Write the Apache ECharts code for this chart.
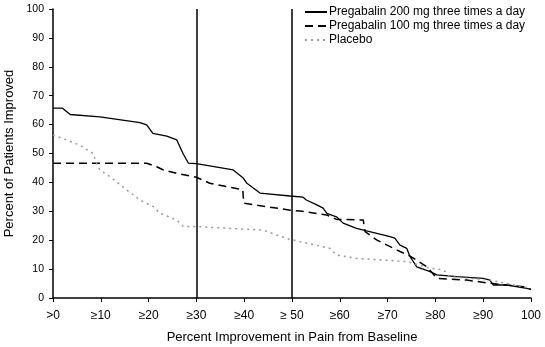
<!DOCTYPE html>
<html><head><meta charset="utf-8">
<script src="https://cdn.jsdelivr.net/npm/echarts@6/dist/echarts.min.js"></script>
<style>html,body{margin:0;padding:0;background:#fff}#c{width:545px;height:347px}</style>
</head><body><div id="c"></div>
<script>
const seriesNames = ["Pregabalin 200 mg three times a day", "Pregabalin 100 mg three times a day", "Placebo"];
const xTickLabels = [">0", "\u226510", "\u226520", "\u226530", "\u226540", "\u2265 50", "\u226560", "\u226570", "\u226580", "\u226590", "100"];
const thresholds = [30, 50];
const pregabalin200 = [[0,65.7],[2,65.7],[3.6,63.5],[9.8,62.7],[18.2,60.7],[19.6,59.9],[20.9,57],[23.8,56],[25.9,54.7],[27.2,50],[28.3,46.7],[30,46.5],[37.7,44.3],[39.8,41.5],[40.5,39.8],[43.3,36.3],[49.6,35.3],[52.3,34.9],[53,33.9],[55.2,32.2],[56.5,31.1],[57.3,29.3],[59.3,28.1],[60.7,25.9],[63.5,24.1],[65.6,23.2],[70.5,21.2],[71.5,20.7],[72.6,18.3],[74,17.2],[74.7,14.3],[76.1,10.8],[78.9,9.1],[80.3,8.0],[84.5,7.4],[90,6.8],[91.4,6.2],[92.1,4.5],[95,4.5],[99.1,3.3],[100,3.0]];
const pregabalin100 = [[0,46.6],[19.6,46.6],[21.7,45.4],[23.1,44.3],[25.9,43.1],[30,41.8],[32.8,39.7],[38.4,37.9],[39.7,37.5],[39.9,32.8],[49.6,30.4],[51.7,30.1],[57.3,28.7],[59.3,27.2],[64.9,27.0],[65.3,23.0],[67.7,20.1],[72.6,16.1],[74.7,14.5],[76.1,13.1],[78.2,10.8],[80.3,6.8],[86.5,6.2],[91.4,5.1],[98.4,3.9],[100,3.0]];
const placebo = [[0,56.4],[2.8,54.7],[5.6,52.9],[8.4,50],[9.1,46.6],[9.8,44.3],[11.9,42],[15.4,37.4],[18.2,33.9],[21,31.6],[22.4,29.3],[25.9,27],[27.3,24.7],[30,24.7],[44,23.5],[46.8,21.8],[48.9,20.6],[51.7,19.5],[57.9,17.2],[59.3,14.9],[63.5,13.7],[74,12.6],[78.9,10.3],[81.7,9.7],[83,7.4],[91.4,6.2],[100,3.3]];

const font = "Liberation Sans";
const chart = echarts.init(document.getElementById('c'));
chart.setOption({
  animation: false,
  backgroundColor: '#fff',
  textStyle: {fontFamily: font},
  grid: {left: 53, right: 14, top: 9, bottom: 49, containLabel: false, outerBoundsMode: 'none'},
  legend: {
    orient: 'vertical', left: 299, top: 1, itemWidth: 22, itemHeight: 8, itemGap: 2,
    itemStyle: {opacity: 0, borderWidth: 0},
    textStyle: {fontFamily: font, fontSize: 12, color: '#000', padding: [0,0,0,-3]},
    data: seriesNames
  },
  xAxis: {
    type: 'value', min: 0, max: 100, interval: 10,
    name: 'Percent Improvement in Pain from Baseline', nameLocation: 'middle', nameGap: 33,
    nameTextStyle: {fontFamily: font, fontSize: 13, color: '#000'},
    axisLine: {lineStyle: {color: '#000', width: 1.5}},
    axisTick: {show: true, length: 4, lineStyle: {color: '#000'}},
    splitLine: {show: false},
    axisLabel: {fontFamily: font, fontSize: 12, color: '#000', margin: 12,
      formatter: function(v){ return xTickLabels[Math.round(v/10)]; }}
  },
  yAxis: {
    type: 'value', min: 0, max: 100, interval: 10,
    name: 'Percent of Patients Improved', nameLocation: 'middle', nameGap: 37,
    nameTextStyle: {fontFamily: font, fontSize: 13, color: '#000'},
    axisLine: {show: true, lineStyle: {color: '#000', width: 1.5}},
    axisTick: {show: true, length: 4, lineStyle: {color: '#000'}},
    splitLine: {show: false},
    axisLabel: {fontFamily: font, fontSize: 10.5, color: '#000', margin: 9}
  },
  series: [
    {name: seriesNames[0], type: 'line', data: pregabalin200, showSymbol: false, symbol: 'none',
     lineStyle: {color: '#000', width: 1.3, type: 'solid'}, itemStyle: {color: '#000'},
     markLine: {silent: true, symbol: 'none', label: {show: false},
       lineStyle: {color: '#000', width: 1.5, type: 'solid'},
       data: thresholds.map(t => [{coord: [t, 0]}, {coord: [t, 100]}])}},
    {name: seriesNames[1], type: 'line', data: pregabalin100, showSymbol: false, symbol: 'none',
     lineStyle: {color: '#000', width: 1.5, type: [8, 5]}, itemStyle: {color: '#000'}},
    {name: seriesNames[2], type: 'line', data: placebo, showSymbol: false, symbol: 'none',
     lineStyle: {color: '#999', width: 1.5, type: [2, 4]}, itemStyle: {color: '#999'}}
  ]
});
</script></body></html>
